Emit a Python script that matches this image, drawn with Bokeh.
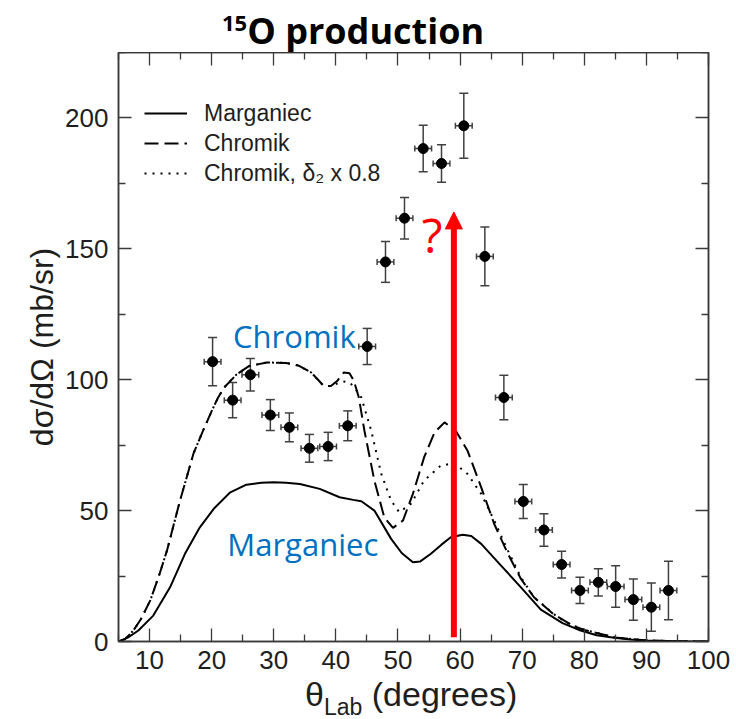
from bokeh.plotting import figure
from bokeh.models import (ColumnDataSource, Whisker, TeeHead, Arrow, NormalHead, Label,
                          LinearAxis, FixedTicker, Legend, LegendItem, Div)
from bokeh.layouts import column
from bokeh.embed import file_html
from bokeh.resources import INLINE

# ---- data ----
theta_exp = [20.15, 23.38, 26.23, 29.45, 32.51, 35.74, 38.75, 41.91, 45.04, 47.99,
             51.05, 54.06, 57.01, 60.6, 63.99, 67.05, 70.18, 73.5, 76.35, 79.3,
             82.26, 85.05, 87.9, 90.8, 93.55]
xs_exp = [106.9, 92.2, 101.9, 86.5, 81.8, 73.8, 74.5, 82.4, 112.7, 145.0,
          161.7, 188.3, 182.6, 197.0, 147.1, 93.2, 53.5, 42.6, 29.4, 19.5,
          22.6, 21.0, 16.0, 13.1, 19.5]
xs_err = [9.2, 6.7, 6.2, 5.9, 5.5, 5.3, 5.4, 5.7, 6.9, 7.8,
          7.9, 8.9, 7.2, 12.4, 11.2, 8.5, 6.5, 6.2, 5.1, 5.0,
          5.2, 7.9, 7.9, 9.2, 11.2]
theta_err = [1.35] * 25

marg_theta = [5, 6.5, 8.2, 10.6, 13.3, 15.7, 18.1, 20.3, 23.0, 25.6, 28, 30, 32, 34.2,
              37.4, 40.6, 42.8, 44.1, 46.2, 48.9, 50.6, 52.4, 53.6, 55.3, 57, 58.5,
              60.4, 61.8, 63.4, 66.6, 69.8, 73, 76.5, 79.4, 82, 84.8, 87.5, 90.1, 95, 100]
marg_xs = [0, 1.5, 4.2, 9.9, 20.7, 33.5, 43.6, 50.6, 57.0, 59.9, 60.6, 60.8, 60.6, 60.2,
           58.3, 55.1, 54.1, 53.6, 50.0, 39.2, 33.8, 30.3, 30.6, 33.5, 37.0, 39.8,
           40.8, 40.3, 37.3, 29.0, 20.7, 12.2, 7.0, 4.2, 2.4, 1.4, 0.8, 0.4, 0.1, 0]

chrom_theta = [5, 6, 7.4, 8.6, 10.1, 11.5, 12.8, 14.9, 17.1, 18.7, 20, 21, 22, 24, 26, 28.9,
               32, 34, 36, 37.2, 38.0, 39.2, 40.2, 41.3, 42.2, 42.9, 43.7, 44.6, 46.2,
               47.8, 49.2, 50.8, 52.4, 54.2, 55.9, 57.5, 59.3, 61.2, 63.4, 65.5, 67.7,
               69.8, 71.9, 75, 78, 80, 85, 90, 95, 100]
chrom_xs = [0, 0.8, 4.2, 8.5, 15.6, 25, 34.7, 53.8, 72.0, 81.0, 88.0, 93.0, 97.0, 102.0, 105.2,
            106.6, 106.4, 105.4, 102.8, 99.8, 97.7, 97.6, 99.5, 102.8, 102.5, 99.6, 93.2,
            80.5, 61.5, 47.4, 43.4, 46.2, 56.4, 70.3, 79.9, 83.7, 80.5, 72.9, 58.9, 44.9,
            33.5, 23.9, 16.9, 10.5, 6.2, 4.4, 1.5, 0.4, 0.1, 0]

chrom08_theta = [5, 6, 7.4, 8.6, 10.1, 11.5, 12.8, 14.9, 17.1, 18.7, 20, 21, 22, 24, 26, 28.9,
                 32, 34, 36, 37.2, 38.0, 39.2, 40.2, 41.2, 42.2, 43, 44.1, 45.7, 47.3,
                 48.9, 50.2, 52.1, 54.2, 56.9, 59.1, 61.2, 63.4, 65.5, 67.7, 69.8, 71.9,
                 75.7, 78, 80, 85, 90, 95, 100]
chrom08_xs = [0, 0.8, 4.2, 8.5, 15.6, 25, 34.7, 53.8, 72.0, 81.0, 88.0, 93.0, 97.0, 102.0, 105.2,
              106.6, 106.4, 105.4, 102.8, 99.8, 97.7, 97.6, 98.5, 99.3, 99.0, 97.0, 93.2,
              80.5, 64.1, 53.8, 49.4, 52.6, 61.5, 67.2, 68.1, 64.0, 56.4, 46.2, 34.7, 24.5,
              16.9, 9.3, 6.3, 4.5, 1.5, 0.4, 0.1, 0]

legend_labels = ["Marganiec", "Chromik", "Chromik, δ\u2082 x 0.8"]
x_ticks = [10, 20, 30, 40, 50, 60, 70, 80, 90, 100]
x_minor = [5, 15, 25, 35, 45, 55, 65, 75, 85, 95]
y_ticks = [0, 50, 100, 150, 200]
y_minor = [25, 75, 125, 175, 225]

arrow_theta = 59.0
arrow_from = 1.6
arrow_to = 164.1
qmark_pos = (55.5, 155.3)
chromik_note_pos = (23.44, 116.8)
marg_note_pos = (22.52, 37.3)

# ---- figure ----
AX = "#3a3a3a"
TXT = "#1e1e1e"
p = figure(width=736, height=629, x_range=(5, 100), y_range=(0, 225),
           output_backend="svg", toolbar_location=None,
           min_border_left=118, min_border_right=28, min_border_top=0, min_border_bottom=40)
p.xgrid.visible = False
p.ygrid.visible = False
p.outline_line_color = AX
p.outline_line_width = 1.5
p.background_fill_color = "white"

xt = FixedTicker(ticks=x_ticks, minor_ticks=x_minor)
yt = FixedTicker(ticks=y_ticks, minor_ticks=y_minor)


def style_axis(ax, size):
    ax.axis_line_color = AX
    ax.axis_line_width = 1.5
    ax.major_tick_in = 13
    ax.major_tick_out = 0
    ax.minor_tick_in = 7
    ax.minor_tick_out = 0
    ax.major_tick_line_color = AX
    ax.minor_tick_line_color = AX
    ax.major_tick_line_width = 1.3
    ax.minor_tick_line_width = 1.3
    ax.major_label_text_font = "Liberation Sans"
    ax.major_label_text_color = TXT
    ax.major_label_text_font_size = size


p.xaxis.ticker = xt
p.yaxis.ticker = yt
style_axis(p.xaxis[0], "26px")
style_axis(p.yaxis[0], "26px")
p.xaxis.major_label_standoff = 9
p.yaxis.major_label_standoff = 10
p.yaxis.axis_label = "dσ/dΩ (mb/sr)"
p.yaxis.axis_label_text_font = "Liberation Sans"
p.yaxis.axis_label_text_font_style = "normal"
p.yaxis.axis_label_text_font_size = "32px"
p.yaxis.axis_label_text_color = TXT
p.yaxis.axis_label_standoff = 2

top_ax = LinearAxis(ticker=xt, major_label_overrides={t: "" for t in x_ticks})
style_axis(top_ax, "10px")
top_ax.major_label_standoff = 0
p.add_layout(top_ax, "above")
right_ax = LinearAxis(ticker=yt, major_label_overrides={t: "" for t in y_ticks})
style_axis(right_ax, "10px")
right_ax.major_label_standoff = 0
p.add_layout(right_ax, "right")

# ---- curves ----
r_m = p.line(marg_theta, marg_xs, line_color="black", line_width=2)
r_c = p.line(chrom_theta, chrom_xs, line_color="black", line_width=2, line_dash="14 6")
r_c8 = p.line(chrom08_theta, chrom08_xs, line_color="black", line_width=2, line_dash="2 6")

# ---- data points with error bars ----
src = ColumnDataSource(dict(
    x=theta_exp, y=xs_exp,
    ylo=[v - e for v, e in zip(xs_exp, xs_err)],
    yhi=[v + e for v, e in zip(xs_exp, xs_err)],
    xlo=[v - e for v, e in zip(theta_exp, theta_err)],
    xhi=[v + e for v, e in zip(theta_exp, theta_err)],
))
EB = "#404040"
p.add_layout(Whisker(source=src, base="x", lower="ylo", upper="yhi", dimension="height",
                     line_color=EB, line_width=1.5,
                     lower_head=TeeHead(size=9, line_color=EB, line_width=1.5),
                     upper_head=TeeHead(size=9, line_color=EB, line_width=1.5)))
p.add_layout(Whisker(source=src, base="y", lower="xlo", upper="xhi", dimension="width",
                     line_color=EB, line_width=1.5,
                     lower_head=TeeHead(size=6, line_color=EB, line_width=1.5),
                     upper_head=TeeHead(size=6, line_color=EB, line_width=1.5)))
p.scatter("x", "y", source=src, size=10, color="black")

# ---- legend ----
legend = Legend(items=[LegendItem(label=legend_labels[0], renderers=[r_m]),
                       LegendItem(label=legend_labels[1], renderers=[r_c]),
                       LegendItem(label=legend_labels[2], renderers=[r_c8])],
                location=(26, 452.7))
legend.border_line_alpha = 0
legend.background_fill_alpha = 0
legend.label_text_font = "Liberation Sans"
legend.label_text_font_size = "23px"
legend.label_text_color = TXT
legend.glyph_width = 43
legend.glyph_height = 30
legend.label_height = 30
legend.spacing = 0
legend.padding = 0
legend.margin = 0
legend.label_standoff = 17
p.add_layout(legend)

# ---- annotations ----
p.add_layout(Arrow(end=NormalHead(size=17, fill_color="#FF0000", line_color="#FF0000", line_width=1),
                   x_start=arrow_theta, y_start=arrow_from, x_end=arrow_theta, y_end=arrow_to,
                   line_color="#FF0000", line_width=6))
p.add_layout(Label(x=qmark_pos[0], y=qmark_pos[1], text="?", text_align="center",
                   text_baseline="alphabetic", text_font="Open Sans", text_font_size="48px",
                   text_color="#FF0000"))
p.add_layout(Label(x=chromik_note_pos[0], y=chromik_note_pos[1], text="Chromik",
                   text_baseline="alphabetic", text_font="Open Sans", text_font_size="31px",
                   text_color="#0070C0"))
p.add_layout(Label(x=marg_note_pos[0], y=marg_note_pos[1], text="Marganiec",
                   text_baseline="alphabetic", text_font="Open Sans", text_font_size="31px",
                   text_color="#0070C0"))

# ---- title and x-axis label (real HTML text) ----
title_div = Div(
    text=('<div style="padding-left:222px; padding-top:11px; font-family:\'Open Sans\'; '
          'font-weight:bold; font-size:36px; line-height:40px; color:black; white-space:nowrap;">'
          '<span style="font-size:22px; position:relative; top:-13px;">15</span>O production</div>'),
    width=736, height=52, margin=0)
xlabel_div = Div(
    text=('<div style="padding-left:305px; font-family:\'Liberation Sans\'; font-size:34px; '
          'line-height:26px; color:#1e1e1e; white-space:nowrap;">θ<span style="font-size:23px; '
          'position:relative; top:9px;">Lab</span> (degrees)</div>'),
    width=736, height=38, margin=0)

layout = column(title_div, p, xlabel_div, spacing=0, margin=0)
open("out.html", "w").write(file_html(layout, INLINE))
